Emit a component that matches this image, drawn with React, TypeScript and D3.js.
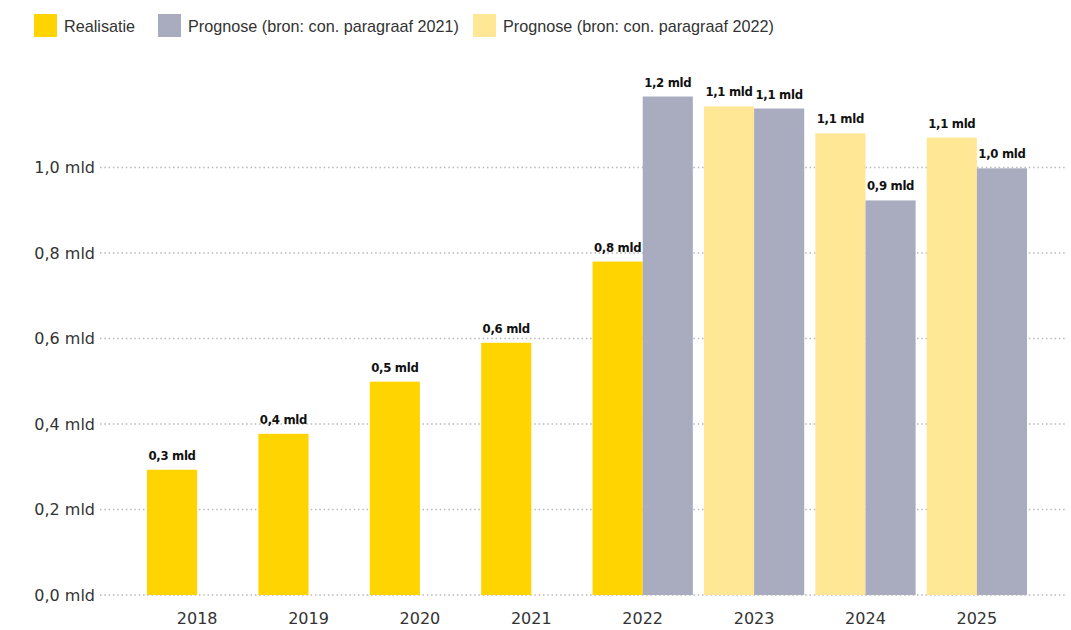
import React from 'react';
import * as d3 from 'd3';

const years = ['2018', '2019', '2020', '2021', '2022', '2023', '2024', '2025'];
const realisatie: (number | null)[] = [0.293, 0.377, 0.499, 0.59, 0.78, null, null, null];
const prognose2022: (number | null)[] = [null, null, null, null, null, 1.143, 1.08, 1.07];
const prognose2021: (number | null)[] = [null, null, null, null, 1.166, 1.138, 0.923, 0.998];
const yTicks = [0, 0.2, 0.4, 0.6, 0.8, 1.0];
const legendItems = [
  { label: 'Realisatie', color: '#FFD400' },
  { label: 'Prognose (bron: con. paragraaf 2021)', color: '#A8ACBE' },
  { label: 'Prognose (bron: con. paragraaf 2022)', color: '#FFE796' },
];

const W = 1071;
const H = 630;

export default function App() {
  const x = d3.scaleBand<string>().domain(years).range([147, 1027]).paddingInner(0.1).paddingOuter(0);
  const slot = d3.scaleBand<string>().domain(['a', 'b']).range([0, x.bandwidth()]).padding(0);
  const y = d3.scaleLinear().domain([0, 1]).range([595, 167.5]);
  const fmt = (v: number) => d3.format('.1f')(v).replace('.', ',');

  const bars: { key: string; x: number; w: number; v: number; color: string }[] = [];
  years.forEach((yr, i) => {
    const r = realisatie[i];
    const p22 = prognose2022[i];
    const p21 = prognose2021[i];
    const x0 = x(yr)!;
    if (r != null) bars.push({ key: yr + 'r', x: x0 + slot('a')!, w: slot.bandwidth(), v: r, color: legendItems[0].color });
    if (p22 != null) bars.push({ key: yr + 'p22', x: x0 + slot('a')!, w: slot.bandwidth(), v: p22, color: legendItems[2].color });
    if (p21 != null) bars.push({ key: yr + 'p21', x: x0 + slot('b')!, w: slot.bandwidth(), v: p21, color: legendItems[1].color });
  });

  const legendX = [34, 158, 473];

  return (
    <svg width={W} height={H} style={{ position: 'absolute', left: 0, top: 0, background: '#fff' }}>
      <rect width={W} height={H} fill="#fff" />
      {/* legend */}
      {legendItems.map((it, i) => (
        <g key={it.label} transform={`translate(${legendX[i]},14)`}>
          <rect width={23} height={23} fill={it.color} />
          <text x={30} y={18} fontFamily="Liberation Sans, Arial, sans-serif" fontSize={16.2} fill="#333">
            {it.label}
          </text>
        </g>
      ))}
      {/* gridlines */}
      {yTicks.map((t) => (
        <g key={t}>
          <line x1={100} x2={1066} y1={y(t)} y2={y(t)} stroke="#b8b8b8" strokeWidth={1.6} strokeDasharray="1.5,2.8" />
          <text x={95} y={y(t)} dy="0.36em" textAnchor="end" fontFamily="DejaVu Sans, sans-serif" fontSize={16} fill="#333">
            {fmt(t) + ' mld'}
          </text>
        </g>
      ))}
      {/* bars */}
      {bars.map((b) => (
        <rect key={b.key} x={b.x} y={y(b.v)} width={b.w} height={y(0) - y(b.v)} fill={b.color} />
      ))}
      {bars.map((b) => (
        <text
          key={b.key + 't'}
          x={b.x + b.w / 2}
          y={y(b.v) - 10}
          textAnchor="middle"
          fontFamily="DejaVu Sans Condensed, DejaVu Sans, sans-serif"
          fontWeight="bold"
          fontSize={13}
          letterSpacing={-0.3}
          fill="#111"
        >
          {fmt(b.v) + ' mld'}
        </text>
      ))}
      {/* x labels */}
      {years.map((yr) => (
        <text
          key={yr}
          x={x(yr)! + x.bandwidth() / 2}
          y={624}
          textAnchor="middle"
          fontFamily="DejaVu Sans, sans-serif"
          fontSize={16}
          fill="#333"
        >
          {yr}
        </text>
      ))}
    </svg>
  );
}
